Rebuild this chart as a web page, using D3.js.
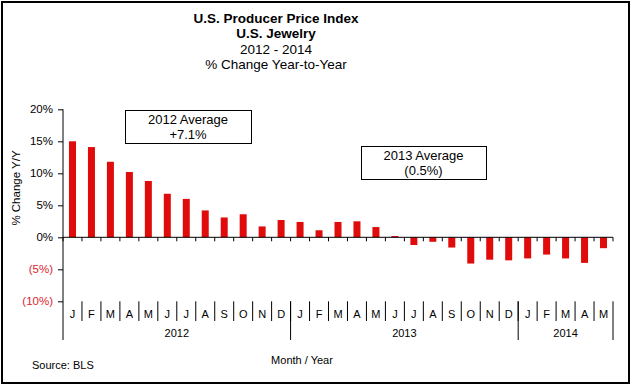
<!DOCTYPE html>
<html>
<head>
<meta charset="utf-8">
<script src="https://cdn.jsdelivr.net/npm/d3@7"></script>
<style>
  body { margin: 0; background: #fff; }
  text { font-family: "Liberation Sans", Arial, sans-serif; fill: #000; }
  .narrow { font-family: "Liberation Sans Narrow", "Liberation Sans", Arial, sans-serif; }
</style>
</head>
<body>
<div id="chart"></div>
<script>
// chart data
const monthLabels = ['J','F','M','A','M','J','J','A','S','O','N','D',
                     'J','F','M','A','M','J','J','A','S','O','N','D',
                     'J','F','M','A','M'];
const yearLabels = ['2012', '2013', '2014'];
const monthsPerYear = [12, 12, 5];
const pctChange = [15.0, 14.1, 11.8, 10.2, 8.8, 6.8, 6.0, 4.2, 3.1, 3.6, 1.7, 2.7,
                   2.4, 1.1, 2.4, 2.5, 1.6, 0.2, -1.2, -0.7, -1.6, -4.1, -3.5, -3.6,
                   -3.3, -2.7, -3.3, -4.0, -1.7];
const yTicks = [20, 15, 10, 5, 0, -5, -10];
const notes = [
  { lines: ['2012 Average', '+7.1%'] },
  { lines: ['2013 Average', '(0.5%)'] }
];

const width = 633, height = 386;
const svg = d3.select('#chart').append('svg')
  .attr('width', width)
  .attr('height', height);

// outer frame
svg.append('rect')
  .attr('x', 2).attr('y', 2)
  .attr('width', 627).attr('height', 381)
  .attr('fill', 'none')
  .attr('stroke', '#000')
  .attr('stroke-width', 2);

// titles
const titles = [
  { t: 'U.S. Producer Price Index', b: true, y: 23 },
  { t: 'U.S. Jewelry', b: true, y: 38 },
  { t: '2012 - 2014', b: false, y: 54 },
  { t: '% Change Year-to-Year', b: false, y: 69 }
];
svg.selectAll('.title').data(titles).enter().append('text')
  .attr('class', 'narrow')
  .attr('x', 276)
  .attr('y', d => d.y)
  .attr('text-anchor', 'middle')
  .style('font-size', '13.5px')
  .style('font-weight', d => d.b ? 'bold' : 'normal')
  .text(d => d.t);

const left = 63, right = 613;
const x = d3.scaleBand()
  .domain(d3.range(pctChange.length))
  .range([left, right]);
const y = d3.scaleLinear()
  .domain([-10, 20])
  .range([301.3, 109.3]);

const step = x.step();
const barW = 7;

// bars
svg.selectAll('.bar').data(pctChange).enter().append('rect')
  .attr('x', (d, i) => x(i) + (step - barW) / 2)
  .attr('y', d => y(Math.max(0, d)))
  .attr('width', barW)
  .attr('height', d => Math.abs(y(d) - y(0)))
  .attr('fill', '#e00b0b');

// y axis
const yAxis = d3.axisLeft(y)
  .tickValues(yTicks)
  .tickSize(5)
  .tickFormat(d => d < 0 ? '(' + (-d) + '%)' : d + '%');
const yg = svg.append('g')
  .attr('transform', `translate(${left},0)`)
  .call(yAxis);
yg.select('.domain').remove();
yg.selectAll('.tick line').attr('stroke', '#000');
yg.selectAll('.tick text')
  .attr('x', -10)
  .style('font-size', '11.5px')
  .style('font-family', '"Liberation Sans", Arial, sans-serif')
  .style('fill', d => d < 0 ? '#dd2530' : '#000');

// vertical axis line running down through the label area
svg.append('line')
  .attr('x1', left).attr('x2', left)
  .attr('y1', y(20)).attr('y2', 340)
  .attr('stroke', '#000');

// zero line with ticks at category boundaries
svg.append('line')
  .attr('x1', left).attr('x2', right)
  .attr('y1', y(0)).attr('y2', y(0))
  .attr('stroke', '#000');
svg.selectAll('.xtick').data(d3.range(pctChange.length + 1)).enter().append('line')
  .attr('x1', i => left + i * step).attr('x2', i => left + i * step)
  .attr('y1', y(0)).attr('y2', y(0) + 4)
  .attr('stroke', '#000');

// month labels and separators
svg.selectAll('.month').data(monthLabels).enter().append('text')
  .attr('x', (d, i) => x(i) + step / 2)
  .attr('y', 318)
  .attr('text-anchor', 'middle')
  .style('font-size', '11px')
  .text(d => d);
svg.selectAll('.msep').data(d3.range(1, pctChange.length)).enter().append('line')
  .attr('x1', i => left + i * step).attr('x2', i => left + i * step)
  .attr('y1', y(-10)).attr('y2', 321)
  .attr('stroke', '#000');

// year labels and separators
let start = 0;
const yearSpans = yearLabels.map((yr, k) => {
  const s = { yr, a: start, b: start + monthsPerYear[k] };
  start += monthsPerYear[k];
  return s;
});
svg.selectAll('.ysep').data(yearSpans).enter().append('line')
  .attr('x1', d => left + d.b * step).attr('x2', d => left + d.b * step)
  .attr('y1', y(-10)).attr('y2', 340)
  .attr('stroke', '#000');
svg.selectAll('.year').data(yearSpans).enter().append('text')
  .attr('x', d => left + (d.a + d.b) / 2 * step)
  .attr('y', 337)
  .attr('text-anchor', 'middle')
  .style('font-size', '11px')
  .text(d => d.yr);

// axis titles
svg.append('text')
  .attr('transform', 'translate(20,188) rotate(-90)')
  .attr('text-anchor', 'middle')
  .style('font-size', '11.5px')
  .text('% Change Y/Y');
svg.append('text')
  .attr('x', 302).attr('y', 364)
  .attr('text-anchor', 'middle')
  .style('font-size', '11px')
  .text('Month / Year');
svg.append('text')
  .attr('x', 32).attr('y', 369)
  .style('font-size', '11px')
  .text('Source:  BLS');

// average boxes
const boxPos = [
  { x: 125, y: 110, w: 126, h: 33 },
  { x: 361, y: 146, w: 125, h: 33 }
];
notes.forEach((n, k) => {
  const p = boxPos[k];
  svg.append('rect')
    .attr('x', p.x + 0.5).attr('y', p.y + 0.5)
    .attr('width', p.w).attr('height', p.h)
    .attr('fill', '#fff')
    .attr('stroke', '#000');
  n.lines.forEach((t, j) => {
    svg.append('text')
      .attr('x', p.x + p.w / 2)
      .attr('y', p.y + 14 + j * 15)
      .attr('text-anchor', 'middle')
      .style('font-size', '13px')
      .text(t);
  });
});
</script>
</body>
</html>
